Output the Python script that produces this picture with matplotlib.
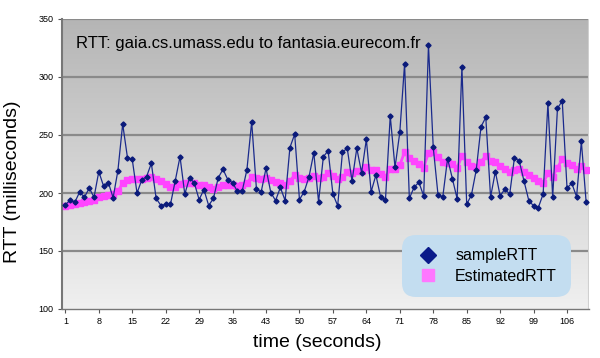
import matplotlib.pyplot as plt
import numpy as np

# values
time_s = list(range(1, 111))
sample_rtt = [
    190, 193.7, 192.2, 200.9, 196.3, 204.3, 196.3, 218.4, 206, 208.9,
    196, 219.3, 259.5, 230.5, 229, 200, 211.2, 214.1, 225.6, 195.4,
    189.2, 190.2, 190.2, 210.5, 231.3, 199, 213.2, 208.5, 194.3, 203,
    189.2, 195.4, 213.2, 220.4, 211.5, 208.9, 201.5, 201.4, 220, 261.3,
    203.1, 201.2, 221.3, 200.4, 193.5, 204.8, 193.5, 239.2, 250.7, 194.3,
    201.2, 214, 234.6, 192.4, 231.2, 236.5, 199.1, 189, 235.3, 238.5,
    210.3, 238.5, 217.5, 246.2, 201.1, 215.5, 196.3, 194, 266.4, 222,
    252.3, 311.2, 195.4, 205, 209.2, 197.4, 327.2, 239.4, 198.3, 196.8,
    229.6, 212.5, 195, 308.4, 190.3, 198.4, 219.9, 257.2, 265.2, 196.5,
    218.5, 197.5, 203.4, 199, 230.5, 227.6, 210.3, 193.5, 188.9, 187.5,
    199.1, 277.3, 196.5, 273, 279.3, 204.3, 208.3, 196.8, 244.5, 192.1,
]
estimated_rtt = [
    189, 189.6, 190.2, 191, 192.2, 193.4, 194, 196.3, 197.4, 198.6,
    199.1, 201.4, 208.3, 211.2, 212.4, 211.8, 212.1, 212.6, 214.1, 212.1,
    210.3, 207.7, 204.9, 204.9, 207.7, 208.9, 208.3, 208.9, 207.2, 206.6,
    204.9, 203.7, 205.5, 206.9, 206.9, 206.9, 206, 206.9, 208.3, 214.1,
    212.6, 211.8, 213.2, 211.2, 209.2, 208.9, 206.9, 210.6, 215.2, 212.9,
    211.8, 213.2, 214.7, 212.6, 214.1, 217, 215, 211.8, 214, 217.8,
    217, 219.2, 219.2, 222.7, 219.8, 219.8, 216.4, 213.5, 220.4, 220.4,
    224.1, 235.3, 230.2, 227.3, 225, 221.8, 234.8, 235.6, 230.7, 226.4,
    226.2, 224.7, 221.3, 232.2, 227, 223.3, 222.7, 227, 231.9, 227.6,
    226.4, 222.9, 220.7, 218.4, 219.8, 221, 218.4, 215.2, 212.6, 210.6,
    208.3, 217, 214.1, 221.8, 229.3, 226.1, 223.9, 220.7, 223.3, 219.8,
]
x_ticks = list(range(1, 107, 7))
y_ticks = [100, 150, 200, 250, 300, 350]

plt.rcParams['font.family'] = ['Liberation Sans', 'DejaVu Sans']

fig = plt.figure(figsize=(6.0, 3.58), dpi=100)
ax = fig.add_axes([62 / 600, 1 - 309 / 358, (589 - 62) / 600, (309 - 19) / 358])

x_lo, x_hi = 0.3, 110.6
ax.set_xlim(x_lo, x_hi)
ax.set_ylim(100, 350)

# gray gradient background, dark at top
grad = np.linspace(0, 1, 256).reshape(-1, 1)
ax.imshow(grad, extent=[x_lo, x_hi, 100, 350], aspect='auto', origin='lower',
          cmap=plt.matplotlib.colors.LinearSegmentedColormap.from_list(
              'bg', ['#f0f0f0', '#b5b5b5']), zorder=0)

for yv in y_ticks[1:]:
    ax.axhline(yv, color='#8a8a8a', lw=1.6, zorder=1)

ax.plot(time_s, estimated_rtt, color='#ff44ff', lw=2.0, marker='s', ms=4.4,
        mec='#ff44ff', zorder=2, label='EstimatedRTT')
ax.plot(time_s, sample_rtt, color='#1a2a8c', lw=0.9, marker='D', ms=2.6,
        mfc='#0a1a7a', mec='#0a1a7a', zorder=3, label='sampleRTT')

ax.set_xticks(x_ticks)
ax.set_yticks(y_ticks)
ax.tick_params(axis='both', labelsize=6.5, length=3, color='#555555', pad=3)
for s in ['top', 'right']:
    ax.spines[s].set_visible(False)
ax.spines['left'].set_color('#777777')
ax.spines['bottom'].set_color('#777777')
ax.spines['left'].set_linewidth(1.5)
ax.spines['bottom'].set_linewidth(1.0)
ax.axvline(x_hi, color='#d0d0d0', lw=1.5, zorder=1)

ax.set_xlabel('time (seconds)', fontsize=14)
ax.xaxis.set_label_coords(0.484, -0.085)
ax.set_ylabel('RTT (milliseconds)', fontsize=14)
ax.yaxis.set_label_coords(-0.077, 0.44)
ax.text(3.3, 329, 'RTT: gaia.cs.umass.edu to fantasia.eurecom.fr', fontsize=12,
        va='center', ha='left', zorder=4)

# legend with sampleRTT first
legend_handles = [
    plt.Line2D([], [], ls='none', marker='D', ms=8, color='#0a1a8a'),
    plt.Line2D([], [], ls='none', marker='s', ms=9, color='#ff77ff'),
]
leg = ax.legend(legend_handles, ['sampleRTT', 'EstimatedRTT'], loc='lower right',
                bbox_to_anchor=(0.965, 0.04), fontsize=11.5, frameon=True,
                fancybox=True, facecolor='#c3ddf0', edgecolor='none',
                framealpha=1.0, handletextpad=0.9, borderpad=0.85,
                labelspacing=0.35, borderaxespad=0, handlelength=1.6)
leg.get_frame().set_boxstyle('round,pad=0,rounding_size=0.9')
leg.set_zorder(5)

fig.savefig('out.png', dpi=100)
